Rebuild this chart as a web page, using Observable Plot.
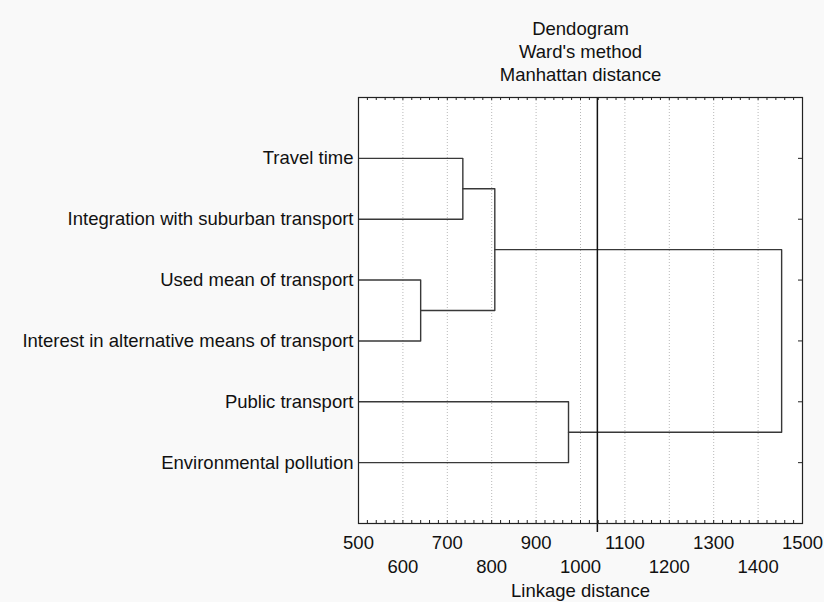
<!DOCTYPE html>
<html>
<head>
<meta charset="utf-8">
<script src="https://cdn.jsdelivr.net/npm/d3@7"></script>
<script src="https://cdn.jsdelivr.net/npm/@observablehq/plot@0.6"></script>
<style>
  html, body { margin: 0; padding: 0; background: #f9f9f9; }
  #chart svg { display: block; background: transparent; }
</style>
</head>
<body>
<div id="chart"></div>
<script>
// ---- data ----
const titleLines = ["Dendogram", "Ward's method", "Manhattan distance"];
const leaves = [
  "Travel time",
  "Integration with suburban transport",
  "Used mean of transport",
  "Interest in alternative means of transport",
  "Public transport",
  "Environmental pollution"
];
// merges: [childA, childB, linkage distance]; children are leaf indices or "m<k>"
const mergeA = [0, 2, "m0", 4, "m2"];
const mergeB = [1, 3, "m1", 5, "m3"];
const mergeH = [735, 640, 807, 973, 1453];
const cutDistance = 1038;
const ticksTop = [500, 700, 900, 1100, 1300, 1500];
const ticksBottom = [600, 800, 1000, 1200, 1400];
const gridTicks = [600, 700, 800, 900, 1000, 1100, 1200, 1300, 1400];
const minorTicks = d3.range(500, 1501, 20);
const xLabel = "Linkage distance";

// ---- build dendrogram links ----
const nodes = {};
leaves.forEach((name, i) => { nodes[i] = {h: 0, y: i + 1}; });
const links = [];
mergeH.forEach((h, k) => {
  const a = nodes[mergeA[k]], b = nodes[mergeB[k]];
  const id = "m" + k;
  links.push({id, x: a.h, y: a.y}, {id, x: h, y: a.y}, {id, x: h, y: b.y}, {id, x: b.h, y: b.y});
  nodes[id] = {h, y: (a.y + b.y) / 2};
});
const leafRows = leaves.map((name, i) => ({name, y: i + 1}));

const W = 824, H = 602;
const mT = 97, mB = 79, mL = 358, mR = 22;
const frameH = H - mT - mB, frameW = W - mL - mR;
const FS = 18.5;

const chart = Plot.plot({
  width: W,
  height: H,
  marginTop: mT,
  marginBottom: mB,
  marginLeft: mL,
  marginRight: mR,
  style: {fontFamily: "'Liberation Sans', Arial, sans-serif", fontSize: FS + "px", color: "#111", background: "transparent"},
  x: {domain: [500, 1500], axis: null},
  y: {domain: [leaves.length + 1, 0], axis: null},
  marks: [
    Plot.frame({fill: "white", stroke: null}),
    Plot.ruleX(gridTicks, {x: d => d, stroke: "#b8b8b8", strokeDasharray: "1,2", strokeWidth: 1}),
    Plot.line(links, {x: "x", y: "y", z: "id", stroke: "#383838", strokeWidth: 1.4, clip: true}),
    Plot.ruleX([cutDistance], {x: d => d, stroke: "#111", strokeWidth: 1.5, insetBottom: -9}),
    // minor ticks on top and bottom (inward)
    Plot.ruleX(minorTicks, {x: d => d, stroke: "#222", insetBottom: frameH - 3}),
    Plot.ruleX(minorTicks, {x: d => d, stroke: "#222", insetTop: frameH - 3}),
    // right-side ticks at leaves (inward)
    Plot.ruleY(leafRows, {y: "y", stroke: "#222", insetLeft: frameW - 4}),
    Plot.frame({stroke: "#222", strokeWidth: 1.2}),
    // leaf labels
    Plot.text(leafRows, {y: "y", text: "name", frameAnchor: "left", textAnchor: "end", lineAnchor: "middle", dx: -5, fill: "#111", fontSize: FS}),
    // x tick labels, staggered
    Plot.text(ticksTop, {x: d => d, text: d => String(d), frameAnchor: "bottom", lineAnchor: "middle", dy: 20, fill: "#111", fontSize: FS}),
    Plot.text(ticksBottom, {x: d => d, text: d => String(d), frameAnchor: "bottom", lineAnchor: "middle", dy: 44, fill: "#111", fontSize: FS}),
    Plot.text([xLabel], {text: d => d, frameAnchor: "bottom", lineAnchor: "middle", dy: 68, fill: "#111", fontSize: FS}),
    // title
    ...titleLines.map((t, i) => Plot.text([t], {text: d => d, frameAnchor: "top", lineAnchor: "middle", dy: -68 + i * 23, fill: "#111", fontSize: FS}))
  ]
});
document.getElementById("chart").appendChild(chart);
</script>
</body>
</html>
